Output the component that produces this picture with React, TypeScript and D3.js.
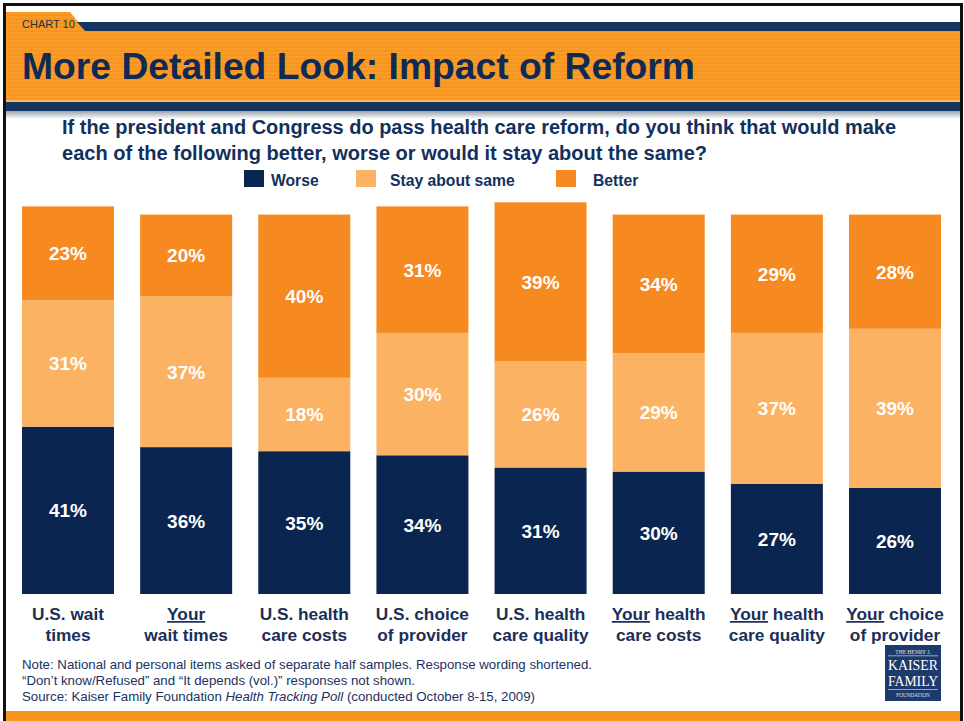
import React from "react";
import * as d3 from "d3";

const categories = [
  ["U.S. wait", "times"],
  ["Your", "wait times"],
  ["U.S. health", "care costs"],
  ["U.S. choice", "of provider"],
  ["U.S. health", "care quality"],
  ["Your health", "care costs"],
  ["Your health", "care quality"],
  ["Your choice", "of provider"],
];
const worse = [41, 36, 35, 34, 31, 30, 27, 26];
const stay = [31, 37, 18, 30, 26, 29, 37, 39];
const better = [23, 20, 40, 31, 39, 34, 29, 28];
const seriesNames = ["Worse", "Stay about same", "Better"];
const notes = [
  "Note: National and personal items asked of separate half samples. Response wording shortened.",
  "\u201CDon\u2019t know/Refused\u201D and \u201CIt depends (vol.)\u201D responses not shown.",
];

const W = 964;
const H = 721;
const COLORS = ["#0A2550", "#FBB262", "#F6891F"];
const NAVY = "#13305C";
const FONT = "'Liberation Sans', Arial, sans-serif";

export default function App() {
  const x = d3
    .scaleBand<number>()
    .domain(d3.range(categories.length))
    .range([22, 941])
    .paddingInner(0.2213)
    .paddingOuter(0);
  const y = d3.scaleLinear().domain([0, 100]).range([594, 186]);

  const stackData = categories.map((_, i) => ({
    i,
    Worse: worse[i],
    "Stay about same": stay[i],
    Better: better[i],
  }));
  const stack = d3.stack<any>().keys(seriesNames)(stackData);

  const stripes = d3.range(12, 100, 4);

  return (
    <svg
      width={W}
      height={H}
      style={{ position: "absolute", left: 0, top: 0, background: "#fff" }}
      fontFamily={FONT}
    >
      <defs>
        <linearGradient id="shadow" x1="0" y1="0" x2="0" y2="1">
          <stop offset="0" stopColor="#9aa3ad" />
          <stop offset="1" stopColor="#ffffff" />
        </linearGradient>
        <clipPath id="hdrclip">
          <path d="M6,12 L70,12 L85,31 L961,31 L961,100 L6,100 Z" />
        </clipPath>
      </defs>
      <rect x={0} y={0} width={W} height={H} fill="#fff" />
      {/* header */}
      <path d="M6,12 L70,12 L85,31 L961,31 L961,100 L6,100 Z" fill="#F7951F" />
      {stripes.map((s) => (
        <rect key={s} x={6} y={s} width={955} height={2} fill="#F9A234" opacity={0.6} clipPath="url(#hdrclip)" />
      ))}
      <path d="M77,22 L961,22 L961,31 L85,31 Z" fill="#15365F" />
      <rect x={6} y={100} width={955} height={2} fill="#FBB866" />
      <rect x={6} y={102} width={955} height={9} fill="#15365F" />
      <rect x={6} y={111} width={955} height={8} fill="url(#shadow)" />
      <text x={22} y={28} fontSize={11} fill="#1f2f4a">CHART 10</text>
      <text x={22} y={79} fontSize={37} fontWeight="bold" fill="#0F2A55" textLength={673} lengthAdjust="spacingAndGlyphs">
        More Detailed Look: Impact of Reform
      </text>
      {/* subtitle */}
      <text x={62} y={134} fontSize={19.5} fontWeight="bold" fill={NAVY} textLength={834} lengthAdjust="spacingAndGlyphs">
        If the president and Congress do pass health care reform, do you think that would make
      </text>
      <text x={62} y={160} fontSize={19.5} fontWeight="bold" fill={NAVY} textLength={645} lengthAdjust="spacingAndGlyphs">
        each of the following better, worse or would it stay about the same?
      </text>
      {/* legend */}
      {[
        { sx: 244, tx: 271 },
        { sx: 356, tx: 390 },
        { sx: 556, tx: 593 },
      ].map((l, k) => (
        <g key={k}>
          <rect x={l.sx} y={170} width={20} height={17} fill={COLORS[k]} />
          <text x={l.tx} y={186} fontSize={15.7} fontWeight="bold" fill={NAVY}>
            {seriesNames[k]}
          </text>
        </g>
      ))}
      {/* bars */}
      {stack.map((layer, k) =>
        layer.map((d, i) => {
          const x0 = x(i)!;
          const y0 = y(d[1]);
          const y1 = y(d[0]);
          return (
            <g key={`${k}-${i}`}>
              <rect x={x0} y={y0} width={x.bandwidth()} height={y1 - y0} fill={COLORS[k]} />
              <text
                x={x0 + x.bandwidth() / 2}
                y={(y0 + y1) / 2 + 7}
                textAnchor="middle"
                fontSize={19}
                fontWeight="bold"
                fill="#fff"
              >
                {d[1] - d[0]}%
              </text>
            </g>
          );
        })
      )}
      {/* category labels */}
      {categories.map((c, i) => {
        const cx = x(i)! + x.bandwidth() / 2;
        const first = c[0];
        const hasYour = first.startsWith("Your");
        return (
          <g key={i} fontSize={17.3} fontWeight="bold" fill="#1A2F5A" textAnchor="middle">
            <text x={cx} y={620}>
              {hasYour ? (
                <>
                  <tspan textDecoration="underline">Your</tspan>
                  {first.slice(4)}
                </>
              ) : (
                first
              )}
            </text>
            <text x={cx} y={641}>{c[1]}</text>
          </g>
        );
      })}
      {/* notes */}
      <g fontSize={13.2} fill="#1B3160">
        <text x={22} y={669} textLength={570} lengthAdjust="spacingAndGlyphs">{notes[0]}</text>
        <text x={22} y={685} textLength={393} lengthAdjust="spacingAndGlyphs">{notes[1]}</text>
        <text x={22} y={701} textLength={513} lengthAdjust="spacingAndGlyphs">
          Source: Kaiser Family Foundation <tspan fontStyle="italic">Health Tracking Poll</tspan> (conducted October 8-15, 2009)
        </text>
      </g>
      {/* logo */}
      <g>
        <rect x={885} y={645} width={56} height={56} fill="#1D3A6C" />
        <g fill="#fff" fontFamily="'Liberation Serif', 'Times New Roman', serif" textAnchor="middle">
          <text x={913} y={653.5} fontSize={5.5} opacity={0.85}>THE HENRY J.</text>
          <rect x={888} y={655.5} width={50} height={0.7} fill="#cfd6e2" />
          <text x={913} y={670} fontSize={15} textLength={50} lengthAdjust="spacingAndGlyphs">KAISER</text>
          <text x={913} y={686} fontSize={15} textLength={50} lengthAdjust="spacingAndGlyphs">FAMILY</text>
          <rect x={888} y={689} width={50} height={0.7} fill="#cfd6e2" />
          <text x={913} y={697} fontSize={5.2} opacity={0.85}>FOUNDATION</text>
        </g>
      </g>
      {/* bottom band */}
      <rect x={6} y={711} width={955} height={10} fill="#F7951F" />
      {/* border */}
      <rect x={4.5} y={4.5} width={957} height={H + 10} fill="none" stroke="#111" strokeWidth={3} />
    </svg>
  );
}
